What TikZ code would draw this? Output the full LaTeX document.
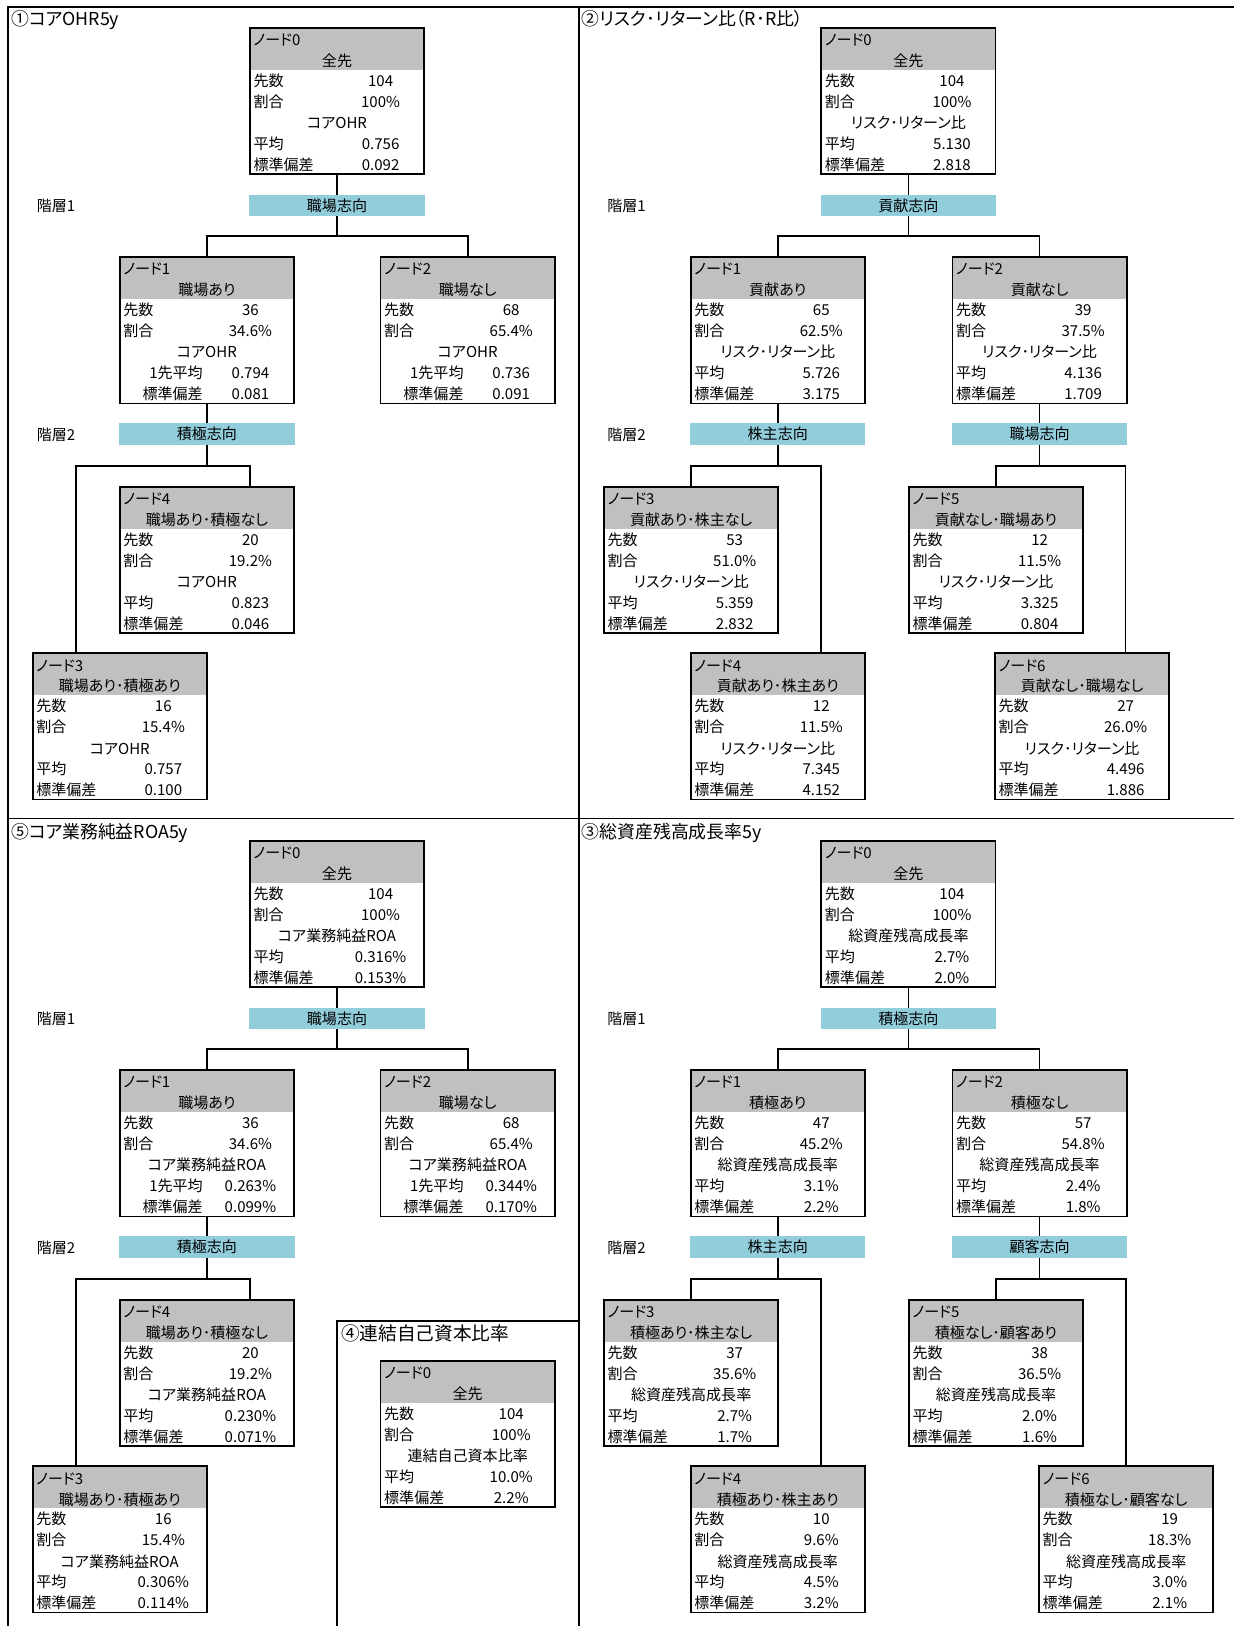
\documentclass[tikz,border=0pt]{standalone}
\usepackage{fontspec}
\setmainfont{Noto Sans CJK JP}[RawFeature=+palt]
\usetikzlibrary{calc}
\definecolor{hdrgray}{HTML}{C0C0C0}
\definecolor{barblue}{HTML}{92CDDC}
\newif\ifRA
% #1 name, #2 (left,top), #3 node no, #4 header, #5 count, #6 pct, #7 metric, #8 mean, #9 sd
\newcommand\TN[9]{%
  \node[tbox] (#1) at #2 {};
  \fill[hdrgray] (#1.north west) rectangle ([yshift=-40.5pt]#1.north east);
  \draw[boxline] (#1.north west) rectangle (#1.south east);
  \node[txt,anchor=west] (#1-a) at ([xshift=3.5pt,yshift=-11.6pt]#1.north west) {ノード#3};
  \node[txt] (#1-b) at ([yshift=-31.8pt]#1.north) {#4};
  \node[txt,anchor=west] (#1-c) at ([xshift=3.5pt,yshift=-50.8pt]#1.north west) {先数};
  \node[txt] (#1-d) at ([xshift=126pt,yshift=-50.8pt]#1.north west) {#5};
  \node[txt,anchor=west] (#1-e) at ([xshift=3.5pt,yshift=-71pt]#1.north west) {割合};
  \node[txt] (#1-f) at ([xshift=126pt,yshift=-71pt]#1.north west) {#6};
  \node[txt] (#1-g) at ([yshift=-91.6pt]#1.north) {#7};
  \ifRA
    \node[txt,anchor=east] (#1-h) at ([xshift=80pt,yshift=-111.6pt]#1.north west) {1先平均};
    \node[txt,anchor=east] (#1-j) at ([xshift=80pt,yshift=-131.8pt]#1.north west) {標準偏差};
  \else
    \node[txt,anchor=west] (#1-h) at ([xshift=3.5pt,yshift=-111.6pt]#1.north west) {平均};
    \node[txt,anchor=west] (#1-j) at ([xshift=3.5pt,yshift=-131.8pt]#1.north west) {標準偏差};
  \fi
  \node[txt] (#1-i) at ([xshift=126pt,yshift=-111.6pt]#1.north west) {#8};
  \node[txt] (#1-k) at ([xshift=126pt,yshift=-131.8pt]#1.north west) {#9};
}
\begin{document}
\begin{tikzpicture}[x=1pt,y=-1pt,
  tbox/.style={rectangle,inner sep=0pt,outer sep=0pt,minimum width=168pt,minimum height=141pt,anchor=north west},
  boxline/.style={line width=1.7pt,line join=miter},
  txt/.style={inner sep=0pt,outer sep=0pt,font=\fontsize{14.5}{17}\selectfont,text height=12.5pt,text depth=1.5pt},
  bar/.style={txt,fill=barblue,minimum width=169pt,minimum height=20.5pt},
  conn/.style={line width=1.6pt},
  frame/.style={line width=1.7pt},
  ttl/.style={inner sep=0pt,outer sep=0pt,anchor=west,font=\fontsize{17.2}{20}\selectfont,text height=14.5pt,text depth=1.5pt},
  lvl/.style={txt,anchor=west}]
\useasboundingbox (0,0) rectangle (1190,1568);

% ---------- frames ----------
\draw[frame] (7.6,1568) -- (7.6,6.4) -- (1190,6.4);
\draw[frame] (558.4,6.4) -- (558.4,1568);
\draw[frame] (7.6,789.3) -- (1190,789.3);
\draw[frame] (325,1568) -- (325,1273.5) -- (558.4,1273.5);

% ---------- titles ----------
\node[ttl] (t1) at (10.7,18.3) {①コアOHR5y};
\node[ttl] (t2) at (561.2,18.3) {②リスク･リターン比（R･R比）};
\node[ttl] (t5) at (10.7,802.3) {⑤コア業務純益ROA5y};
\node[ttl] (t3) at (561.2,802.3) {③総資産残高成長率5y};
\node[ttl,font=\fontsize{18}{21}\selectfont,text height=15.2pt] (t4) at (329,1286) {④連結自己資本比率};

% ---------- panel 1 ----------
\TN{a0}{(241,27)}{0}{全先}{104}{100\%}{コアOHR}{0.756}{0.092}
\node[bar] (ab1) at (325,198.3) {職場志向};
\node[lvl] (al1) at (35.5,198.8) {階層1};
\RAtrue
\TN{a1}{(115.5,248)}{1}{職場あり}{36}{34.6\%}{コアOHR}{0.794}{0.081}
\TN{a2}{(367,248)}{2}{職場なし}{68}{65.4\%}{コアOHR}{0.736}{0.091}
\RAfalse
\node[bar] (ab2) at (199.5,418.5) {積極志向};
\node[lvl] (al2) at (35.5,419) {階層2};
\TN{a4}{(115.5,469.5)}{4}{職場あり･積極なし}{20}{19.2\%}{コアOHR}{0.823}{0.046}
\TN{a3}{(31.5,630)}{3}{職場あり･積極あり}{16}{15.4\%}{コアOHR}{0.757}{0.100}
\coordinate (aj1) at (325,227.5);
\coordinate (aj2) at (199.5,449.5);
\draw[conn] (a0) -- (ab1);
\draw[conn] (ab1) -- (aj1) -| (a1);
\draw[conn] (aj1) -| (a2);
\draw[conn] (a1) -- (ab2);
\draw[conn] (ab2) -- (aj2) -| ([xshift=41.5pt]a4.north);
\draw[conn] (aj2) -| ([xshift=-42pt]a3.north);

% ---------- panel 2 ----------
\TN{b0}{(792,27)}{0}{全先}{104}{100\%}{リスク･リターン比}{5.130}{2.818}
\node[bar] (bb1) at (876,198.3) {貢献志向};
\node[lvl] (bl1) at (585.6,198.8) {階層1};
\TN{b1}{(666,248)}{1}{貢献あり}{65}{62.5\%}{リスク･リターン比}{5.726}{3.175}
\TN{b2}{(918.5,248)}{2}{貢献なし}{39}{37.5\%}{リスク･リターン比}{4.136}{1.709}
\node[bar] (bb2) at (750,418.5) {株主志向};
\node[bar] (bb3) at (1002.5,418.5) {職場志向};
\node[lvl] (bl2) at (585.6,419) {階層2};
\TN{b3}{(582.5,469.5)}{3}{貢献あり･株主なし}{53}{51.0\%}{リスク･リターン比}{5.359}{2.832}
\TN{b4}{(666,630)}{4}{貢献あり･株主あり}{12}{11.5\%}{リスク･リターン比}{7.345}{4.152}
\TN{b5}{(876.5,469.5)}{5}{貢献なし･職場あり}{12}{11.5\%}{リスク･リターン比}{3.325}{0.804}
\TN{b6}{(959.5,630)}{6}{貢献なし･職場なし}{27}{26.0\%}{リスク･リターン比}{4.496}{1.886}
\coordinate (bj1) at (876,227.5);
\coordinate (bj2) at (750,449.5);
\coordinate (bj3) at (1002.5,449.5);
\draw[conn] (b0) -- (bb1);
\draw[conn] (bb1) -- (bj1) -| (b1);
\draw[conn] (bj1) -| (b2);
\draw[conn] (b1) -- (bb2);
\draw[conn] (b2) -- (bb3);
\draw[conn] (bb2) -- (bj2) -| (b3);
\draw[conn] (bj2) -| ([xshift=42pt]b4.north);
\draw[conn] (bb3) -- (bj3) -| (b5);
\draw[conn] (bj3) -| ([xshift=42pt]b6.north);

\begin{scope}[shift={(0,784)}]
% ---------- panel 5 ----------
\TN{e0}{(241,27)}{0}{全先}{104}{100\%}{コア業務純益ROA}{0.316\%}{0.153\%}
\node[bar] (eb1) at (325,198.3) {職場志向};
\node[lvl] (el1) at (35.5,198.8) {階層1};
\RAtrue
\TN{e1}{(115.5,248)}{1}{職場あり}{36}{34.6\%}{コア業務純益ROA}{0.263\%}{0.099\%}
\TN{e2}{(367,248)}{2}{職場なし}{68}{65.4\%}{コア業務純益ROA}{0.344\%}{0.170\%}
\RAfalse
\node[bar] (eb2) at (199.5,418.5) {積極志向};
\node[lvl] (el2) at (35.5,419) {階層2};
\TN{e4}{(115.5,469.5)}{4}{職場あり･積極なし}{20}{19.2\%}{コア業務純益ROA}{0.230\%}{0.071\%}
\TN{e3}{(31.5,630)}{3}{職場あり･積極あり}{16}{15.4\%}{コア業務純益ROA}{0.306\%}{0.114\%}
\coordinate (ej1) at (325,227.5);
\coordinate (ej2) at (199.5,449.5);
\draw[conn] (e0) -- (eb1);
\draw[conn] (eb1) -- (ej1) -| (e1);
\draw[conn] (ej1) -| (e2);
\draw[conn] (e1) -- (eb2);
\draw[conn] (eb2) -- (ej2) -| ([xshift=41.5pt]e4.north);
\draw[conn] (ej2) -| ([xshift=-42pt]e3.north);

% ---------- panel 3 ----------
\TN{c0}{(792,27)}{0}{全先}{104}{100\%}{総資産残高成長率}{2.7\%}{2.0\%}
\node[bar] (cb1) at (876,198.3) {積極志向};
\node[lvl] (cl1) at (585.6,198.8) {階層1};
\TN{c1}{(666,248)}{1}{積極あり}{47}{45.2\%}{総資産残高成長率}{3.1\%}{2.2\%}
\TN{c2}{(918.5,248)}{2}{積極なし}{57}{54.8\%}{総資産残高成長率}{2.4\%}{1.8\%}
\node[bar] (cb2) at (750,418.5) {株主志向};
\node[bar] (cb3) at (1002.5,418.5) {顧客志向};
\node[lvl] (cl2) at (585.6,419) {階層2};
\TN{c3}{(582.5,469.5)}{3}{積極あり･株主なし}{37}{35.6\%}{総資産残高成長率}{2.7\%}{1.7\%}
\TN{c4}{(666,630)}{4}{積極あり･株主あり}{10}{9.6\%}{総資産残高成長率}{4.5\%}{3.2\%}
\TN{c5}{(876.5,469.5)}{5}{積極なし･顧客あり}{38}{36.5\%}{総資産残高成長率}{2.0\%}{1.6\%}
\TN{c6}{(1002,630)}{6}{積極なし･顧客なし}{19}{18.3\%}{総資産残高成長率}{3.0\%}{2.1\%}
\coordinate (cj1) at (876,227.5);
\coordinate (cj2) at (750,449.5);
\coordinate (cj3) at (1002.5,449.5);
\draw[conn] (c0) -- (cb1);
\draw[conn] (cb1) -- (cj1) -| (c1);
\draw[conn] (cj1) -| (c2);
\draw[conn] (c1) -- (cb2);
\draw[conn] (c2) -- (cb3);
\draw[conn] (cb2) -- (cj2) -| (c3);
\draw[conn] (cj2) -| ([xshift=42pt]c4.north);
\draw[conn] (cb3) -- (cj3) -| (c5);
\draw[conn] (cj3) -| (c6);
\end{scope}

% ---------- panel 4 ----------
\TN{d0}{(367,1312.5)}{0}{全先}{104}{100\%}{連結自己資本比率}{10.0\%}{2.2\%}
\end{tikzpicture}
\end{document}
